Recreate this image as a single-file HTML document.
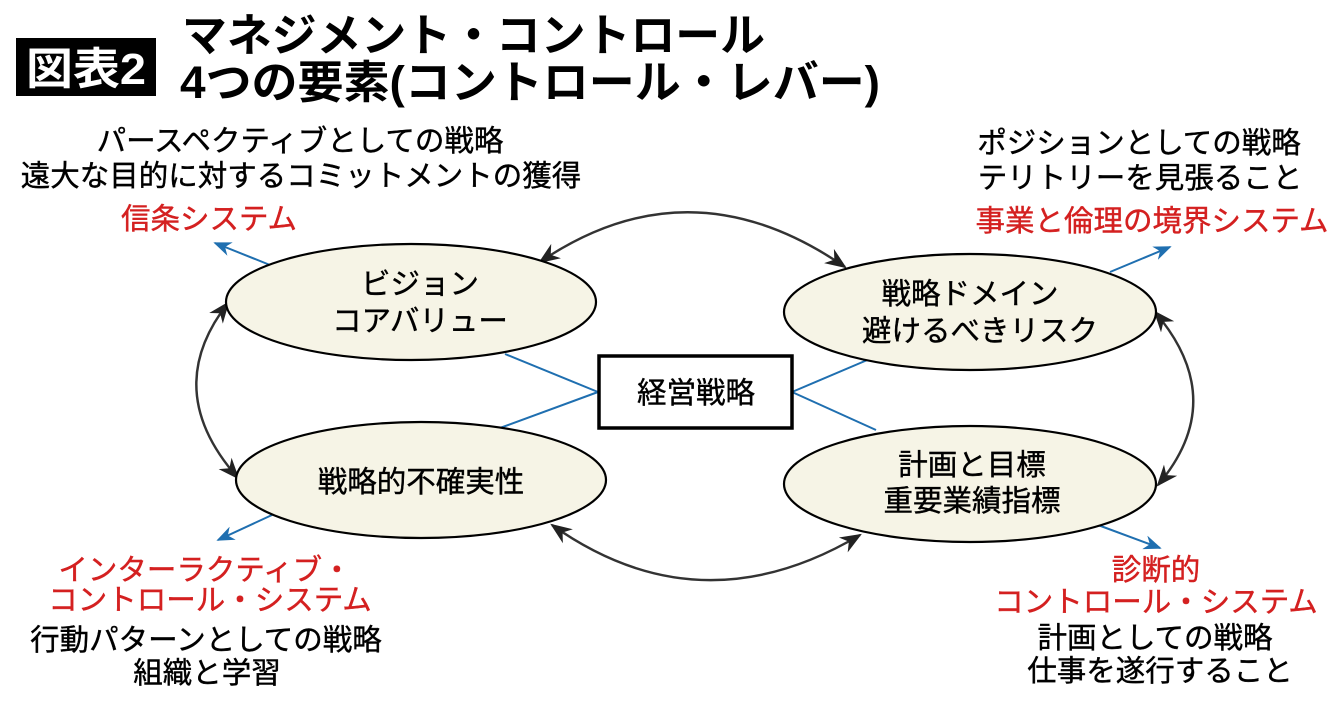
<!DOCTYPE html>
<html><head><meta charset="utf-8"><style>
body{margin:0;width:1340px;height:704px;background:#fff;overflow:hidden;font-family:"Liberation Sans","Noto Sans CJK JP",sans-serif}
svg{position:absolute;left:0;top:0}
</style></head><body>
<svg width="1340" height="704" viewBox="0 0 1340 704" font-family="Liberation Sans, Noto Sans CJK JP, sans-serif">
<defs>
<marker id="ab" viewBox="0 0 10 10" refX="9" refY="5" markerWidth="9" markerHeight="9" orient="auto-start-reverse"><path d="M0,1 L10,5 L0,9 L3,5z" fill="#222"/></marker>
<marker id="au" viewBox="0 0 10 10" refX="9" refY="5" markerWidth="9" markerHeight="9" orient="auto"><path d="M0,1 L10,5 L0,9 L3,5z" fill="#1f6fb0"/></marker>
</defs>
<rect x="16" y="38" width="140" height="58" fill="#000"/>
<text x="86" y="84" font-size="44" font-weight="bold" fill="#fff" text-anchor="middle" textLength="120" lengthAdjust="spacingAndGlyphs">図表2</text>
<text x="182" y="51" font-size="45" font-weight="bold" textLength="583" lengthAdjust="spacingAndGlyphs">マネジメント・コントロール</text>
<text x="180" y="98" font-size="45" font-weight="bold" textLength="700" lengthAdjust="spacingAndGlyphs">4つの要素(コントロール・レバー)</text>

<g font-size="29.5" text-anchor="middle" stroke-width="0.4">
<text x="300" y="151" stroke="#000">パースペクティブとしての戦略</text>
<text x="301" y="186" stroke="#000">遠大な目的に対するコミットメントの獲得</text>
<text x="209" y="229" fill="#d42020" stroke="#d42020">信条システム</text>
<text x="1139" y="153" stroke="#000">ポジションとしての戦略</text>
<text x="1140" y="188" stroke="#000">テリトリーを見張ること</text>
<text x="1152" y="231" fill="#d42020" stroke="#d42020">事業と倫理の境界システム</text>
<text x="205" y="580" fill="#d42020" stroke="#d42020">インターラクティブ・</text>
<text x="210" y="610" fill="#d42020" stroke="#d42020">コントロール・システム</text>
<text x="206" y="650" stroke="#000">行動パターンとしての戦略</text>
<text x="207" y="683" stroke="#000">組織と学習</text>
<text x="1156" y="580" fill="#d42020" stroke="#d42020">診断的</text>
<text x="1156" y="612" fill="#d42020" stroke="#d42020">コントロール・システム</text>
<text x="1155" y="648" stroke="#000">計画としての戦略</text>
<text x="1160" y="681" stroke="#000">仕事を遂行すること</text>
</g>

<g stroke="#1f6fb0" stroke-width="2" fill="none">
<line x1="598" y1="392" x2="505" y2="354"/>
<line x1="598" y1="392" x2="500" y2="428"/>
<line x1="792" y1="392" x2="872" y2="358"/>
<line x1="792" y1="392" x2="876" y2="430"/>
<line x1="270" y1="265" x2="215" y2="243" marker-end="url(#au)"/>
<line x1="272" y1="515" x2="218" y2="540" marker-end="url(#au)"/>
<line x1="1110" y1="272" x2="1170" y2="247" marker-end="url(#au)"/>
<line x1="1098" y1="525" x2="1160" y2="548" marker-end="url(#au)"/>
</g>

<g stroke="#333" stroke-width="2.4" fill="none">
<path d="M540,262 Q690,160 845,267" marker-start="url(#ab)" marker-end="url(#ab)"/>
<path d="M552,525 Q700,630 860,535" marker-start="url(#ab)" marker-end="url(#ab)"/>
<path d="M228,303 Q160,390 238,478" marker-start="url(#ab)" marker-end="url(#ab)"/>
<path d="M1155,312 Q1230,400 1158,485" marker-start="url(#ab)" marker-end="url(#ab)"/>
</g>

<g fill="#f6f4e6" stroke="#000" stroke-width="2.2">
<ellipse cx="411" cy="302" rx="185" ry="58"/>
<ellipse cx="421" cy="480" rx="185" ry="58"/>
<ellipse cx="970" cy="312" rx="186" ry="58"/>
<ellipse cx="970" cy="484" rx="186" ry="58"/>
</g>
<rect x="599" y="356" width="193" height="72" fill="#fff" stroke="#000" stroke-width="3.5"/>

<g font-size="29.5" text-anchor="middle" stroke="#000" stroke-width="0.4">
<text x="420" y="294">ビジョン</text>
<text x="420" y="331">コアバリュー</text>
<text x="421" y="492">戦略的不確実性</text>
<text x="970" y="304">戦略ドメイン</text>
<text x="980" y="341">避けるべきリスク</text>
<text x="972" y="475">計画と目標</text>
<text x="972" y="511">重要業績指標</text>
<text x="696" y="403">経営戦略</text>
</g>
</svg>
</body></html>
